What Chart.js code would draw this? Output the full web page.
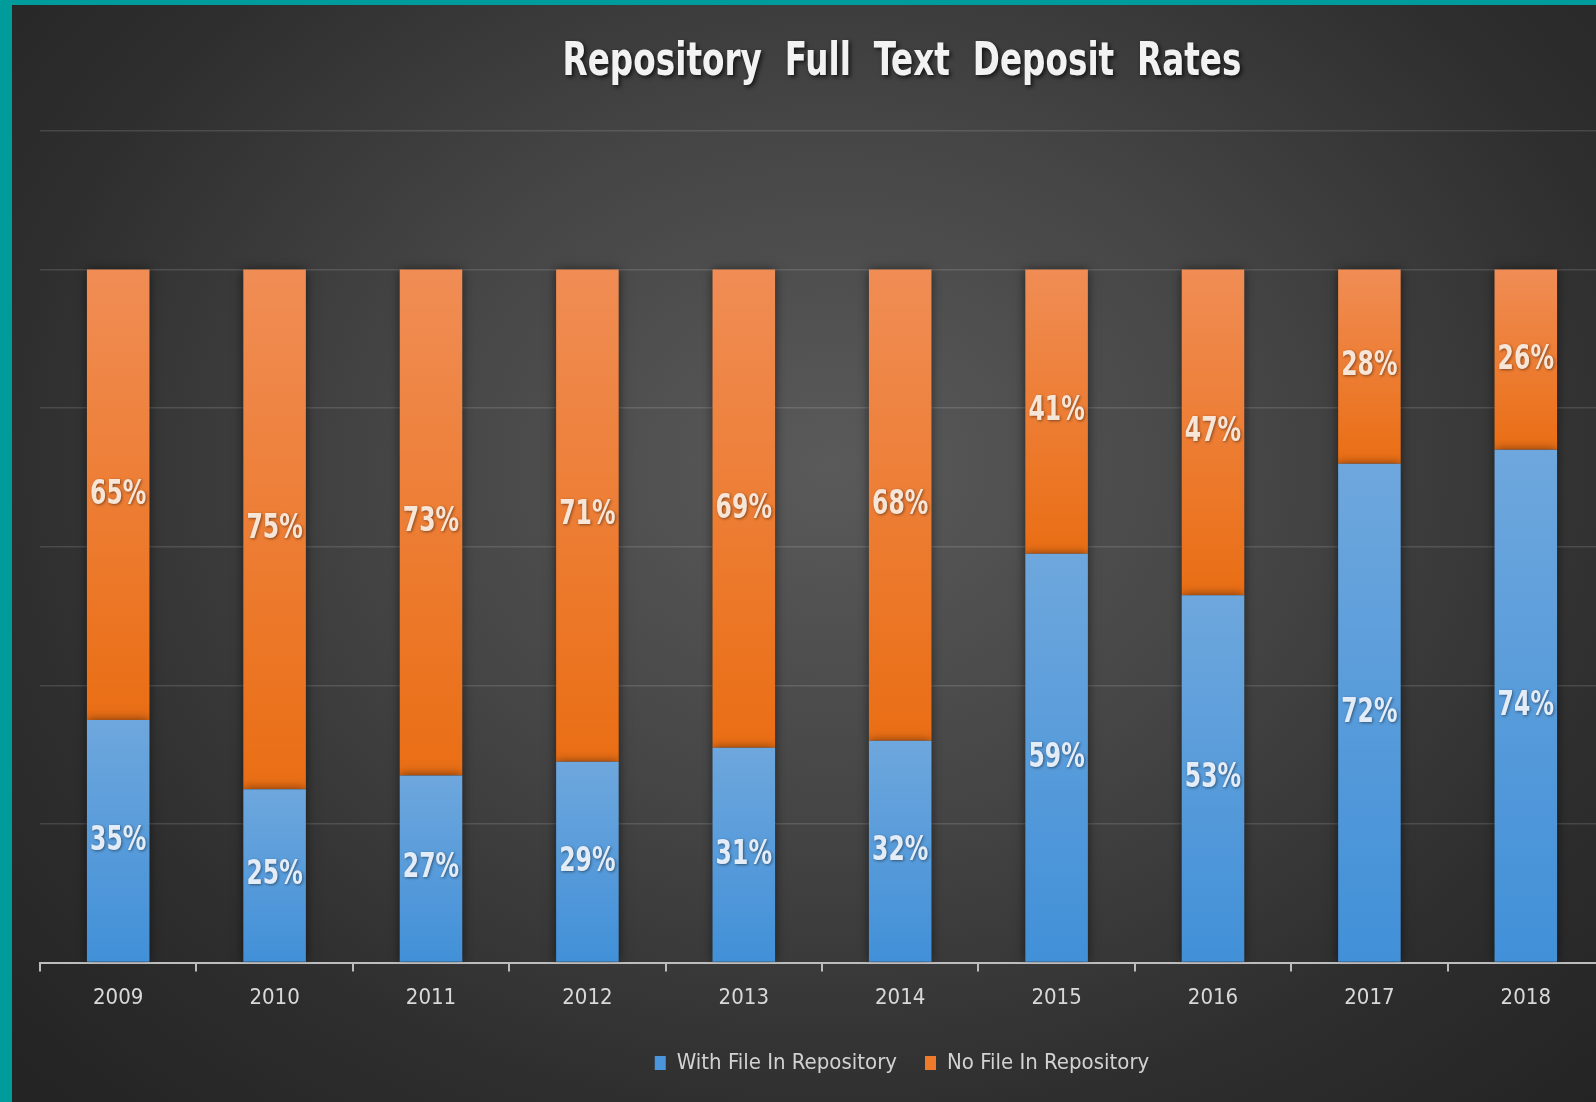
<!DOCTYPE html>
<html>
<head>
<meta charset="utf-8">
<script src="https://cdn.jsdelivr.net/npm/chart.js@4.4.1/dist/chart.umd.min.js"></script>
<style>
  html, body { margin: 0; padding: 0; overflow: hidden; background: #009b9b; }
  #wrap {
    position: absolute; left: 12px; top: 5px; width: 1780px; height: 1097px;
    background: radial-gradient(ellipse 62% 80% at 46% 42%, #5a5a5a 0%, #454545 40%, #2e2e2e 75%, #242424 100%);
  }
  canvas { display: block; }
</style>
</head>
<body>
<div id="wrap"><canvas id="chart" width="1780" height="1097"></canvas></div>
<script>
const years = ["2009", "2010", "2011", "2012", "2013", "2014", "2015", "2016", "2017", "2018"];
const withFile = [35, 25, 27, 29, 31, 32, 59, 53, 72, 74];
const noFile = [65, 75, 73, 71, 69, 68, 41, 47, 28, 26];
const seriesNames = ["With File In Repository", "No File In Repository"];
const chartTitle = "Repository  Full  Text  Deposit  Rates";

const NARROW = "'DejaVu Sans Condensed', 'DejaVu Sans', sans-serif";

// vertical gradient per stacked segment, light at the top
function segmentGradient(top, bottom) {
  return (context) => {
    const chart = context.chart;
    const y = chart.scales.y;
    if (!y || context.dataIndex === undefined) return bottom;
    const i = context.dataIndex;
    const lo = context.datasetIndex === 0 ? 0 : withFile[i];
    const hi = context.datasetIndex === 0 ? withFile[i] : withFile[i] + noFile[i];
    const g = chart.ctx.createLinearGradient(0, y.getPixelForValue(hi), 0, y.getPixelForValue(lo));
    g.addColorStop(0, top);
    g.addColorStop(1, bottom);
    return g;
  };
}

// squeezed text, the original uses a narrow font
function narrowText(ctx, text, x, y, squeeze) {
  ctx.save();
  ctx.translate(x, y);
  ctx.scale(squeeze, 1);
  ctx.fillText(text, 0, 0);
  ctx.restore();
}

const barShadowAndLabels = {
  id: "barShadowAndLabels",
  beforeDatasetsDraw(chart) {
    const ctx = chart.ctx;
    ctx.save();
    ctx.shadowColor = "rgba(0,0,0,0.55)";
    ctx.shadowBlur = 10;
  },
  afterDatasetsDraw(chart) {
    const ctx = chart.ctx;
    ctx.restore();
    ctx.save();
    ctx.font = "bold 34px " + NARROW;
    ctx.textAlign = "center";
    ctx.textBaseline = "middle";
    ctx.shadowColor = "rgba(0,0,0,0.45)";
    ctx.shadowBlur = 3;
    ctx.shadowOffsetX = 1;
    ctx.shadowOffsetY = 1;
    chart.data.datasets.forEach((ds, di) => {
      const meta = chart.getDatasetMeta(di);
      meta.data.forEach((bar, i) => {
        ctx.fillStyle = di === 0 ? "#e4edf7" : "#f7e6d8";
        narrowText(ctx, ds.data[i] + "%", bar.x, (bar.y + bar.base) / 2, 0.77);
      });
    });
    ctx.restore();
  },
  afterDraw(chart) {
    const ctx = chart.ctx;
    ctx.save();
    ctx.font = "bold 46px " + NARROW;
    ctx.textAlign = "center";
    ctx.textBaseline = "middle";
    ctx.fillStyle = "#f2f2f2";
    ctx.shadowColor = "rgba(0,0,0,0.7)";
    ctx.shadowBlur = 4;
    ctx.shadowOffsetX = 2;
    ctx.shadowOffsetY = 2;
    narrowText(ctx, chartTitle, chart.width / 2, 58, 0.79);
    ctx.restore();
  }
};

new Chart(document.getElementById("chart"), {
  type: "bar",
  data: {
    labels: years,
    datasets: [
      {
        label: seriesNames[0],
        data: withFile,
        backgroundColor: segmentGradient("#6ea7dd", "#4190d8"),
        borderWidth: 0,
      },
      {
        label: seriesNames[1],
        data: noFile,
        backgroundColor: segmentGradient("#f08d55", "#ea6e14"),
        borderWidth: 0,
      },
    ],
  },
  options: {
    responsive: false,
    animation: false,
    categoryPercentage: 1,
    barPercentage: 0.4,
    layout: {
      padding: { top: 126, left: 0, right: 0, bottom: 18 },
    },
    plugins: {
      title: { display: false },
      tooltip: { enabled: false },
      legend: {
        position: "bottom",
        labels: {
          color: "#d2d2d2",
          font: { family: NARROW, size: 22 },
          boxWidth: 11,
          boxHeight: 14,
          padding: 28,
          generateLabels(chart) {
            const cols = ["#4a95dc", "#ee7a2a"];
            return chart.data.datasets.map((ds, i) => ({
              text: ds.label,
              fillStyle: cols[i],
              strokeStyle: cols[i],
              lineWidth: 0,
              fontColor: "#d2d2d2",
              datasetIndex: i,
            }));
          },
        },
      },
    },
    scales: {
      x: {
        stacked: true,
        border: { display: true, color: "#bdbdbd", width: 2 },
        grid: {
          display: true,
          drawOnChartArea: false,
          drawTicks: true,
          tickLength: 9,
          color: "#bdbdbd",
          lineWidth: 2,
        },
        ticks: {
          color: "#d9d9d9",
          font: { family: NARROW, size: 22 },
          padding: 13,
        },
      },
      y: {
        stacked: true,
        min: 0,
        max: 120,
        border: { display: false },
        grid: { color: "rgba(255,255,255,0.13)", lineWidth: 1.5, drawTicks: false },
        ticks: { display: false, stepSize: 20 },
        afterFit(scale) { scale.width = 28; },
      },
      // empty spacer on the right: the picture is cut off past 2018
      spacer: {
        type: "linear",
        position: "right",
        border: { display: false },
        grid: { display: false },
        ticks: { display: false },
        afterFit(scale) { scale.width = 188; },
      },
    },
  },
  plugins: [barShadowAndLabels],
});
</script>
</body>
</html>
